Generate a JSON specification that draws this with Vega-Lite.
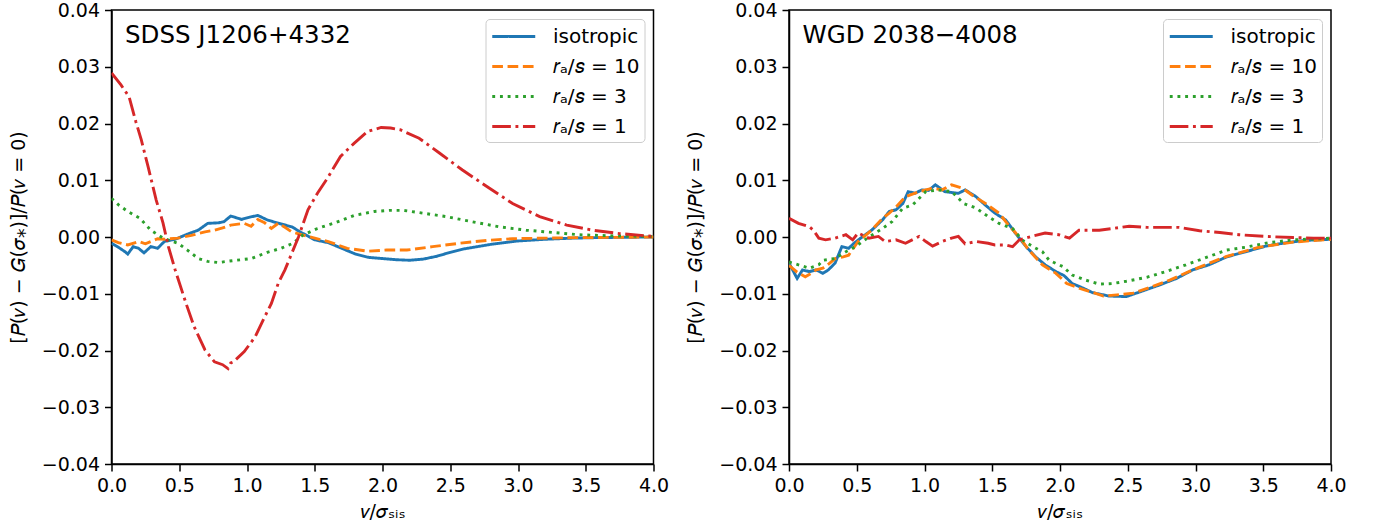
{
"$schema": "https://vega.github.io/schema/vega-lite/v6.json",
"padding": {"left": 8.5, "top": 0, "right": 5, "bottom": 5},
"background": "white",
"spacing": 16.5,
"config": {
  "font": "DejaVu Sans",
  "view": {"stroke": "black", "strokeWidth": 1.5},
  "axis": {"grid": false, "domainColor": "black", "domainWidth": 1.5, "tickColor": "black", "tickWidth": 1.5, "tickSize": 7, "labelPadding": 5, "labelFontSize": 19, "labelColor": "black", "labelFont": "DejaVu Sans", "titleFont": "DejaVu Sans", "titleFontSize": 19, "titleFontWeight": "normal", "titleColor": "black", "labelFlush": false, "labelOverlap": false},
  "legend": {"labelFont": "DejaVu Sans", "title": null, "orient": "top-right", "offset": 9, "symbolType": "M-2,0L2,0", "symbolSize": 462, "symbolOffset": 10.75, "symbolStrokeWidth": 2.9, "labelFontSize": 20, "labelColor": "black", "labelOffset": 26.75, "padding": 5, "rowPadding": 7, "strokeColor": "#cccccc", "cornerRadius": 4, "fillColor": "rgba(255,255,255,0.8)"}
},
"datasets": {
"left": [
{"m":"iso","v":0.0,"d":-0.0011},{"m":"iso","v":0.05,"d":-0.0018},{"m":"iso","v":0.1,"d":-0.0026},{"m":"iso","v":0.12,"d":-0.003},{"m":"iso","v":0.16,"d":-0.0017},{"m":"iso","v":0.2,"d":-0.002},{"m":"iso","v":0.24,"d":-0.0028},{"m":"iso","v":0.29,"d":-0.0017},{"m":"iso","v":0.34,"d":-0.002},{"m":"iso","v":0.39,"d":-0.0008},{"m":"iso","v":0.47,"d":-0.0004},{"m":"iso","v":0.56,"d":0.0005},{"m":"iso","v":0.64,"d":0.0012},{"m":"iso","v":0.71,"d":0.0024},{"m":"iso","v":0.79,"d":0.0025},{"m":"iso","v":0.83,"d":0.0027},{"m":"iso","v":0.88,"d":0.0037},{"m":"iso","v":0.96,"d":0.0031},{"m":"iso","v":1.02,"d":0.0035},{"m":"iso","v":1.08,"d":0.0038},{"m":"iso","v":1.15,"d":0.003},{"m":"iso","v":1.25,"d":0.0023},{"m":"iso","v":1.33,"d":0.0018},{"m":"iso","v":1.4,"d":0.0008},{"m":"iso","v":1.5,"d":-0.0005},{"m":"iso","v":1.6,"d":-0.001},{"m":"iso","v":1.7,"d":-0.002},{"m":"iso","v":1.8,"d":-0.003},{"m":"iso","v":1.9,"d":-0.0036},{"m":"iso","v":2.0,"d":-0.0038},{"m":"iso","v":2.1,"d":-0.004},{"m":"iso","v":2.2,"d":-0.0041},{"m":"iso","v":2.3,"d":-0.0039},{"m":"iso","v":2.4,"d":-0.0034},{"m":"iso","v":2.5,"d":-0.0027},{"m":"iso","v":2.6,"d":-0.0021},{"m":"iso","v":2.8,"d":-0.0013},{"m":"iso","v":3.0,"d":-0.0007},{"m":"iso","v":3.2,"d":-0.0004},{"m":"iso","v":3.4,"d":-0.0002},{"m":"iso","v":3.6,"d":-0.0001},{"m":"iso","v":3.8,"d":-0.00005},{"m":"iso","v":4.0,"d":0},
{"m":"10","v":0.0,"d":-0.0005},{"m":"10","v":0.05,"d":-0.001},{"m":"10","v":0.12,"d":-0.0014},{"m":"10","v":0.2,"d":-0.0008},{"m":"10","v":0.25,"d":-0.0012},{"m":"10","v":0.29,"d":-0.0008},{"m":"10","v":0.34,"d":-0.0003},{"m":"10","v":0.39,"d":-0.0004},{"m":"10","v":0.49,"d":-0.0002},{"m":"10","v":0.59,"d":0.0003},{"m":"10","v":0.69,"d":0.0009},{"m":"10","v":0.76,"d":0.0012},{"m":"10","v":0.82,"d":0.0016},{"m":"10","v":0.88,"d":0.0021},{"m":"10","v":0.98,"d":0.0024},{"m":"10","v":1.03,"d":0.0019},{"m":"10","v":1.08,"d":0.0031},{"m":"10","v":1.13,"d":0.0025},{"m":"10","v":1.18,"d":0.0015},{"m":"10","v":1.23,"d":0.0024},{"m":"10","v":1.28,"d":0.0017},{"m":"10","v":1.33,"d":0.0009},{"m":"10","v":1.42,"d":0.0003},{"m":"10","v":1.5,"d":-0.0002},{"m":"10","v":1.6,"d":-0.0008},{"m":"10","v":1.74,"d":-0.002},{"m":"10","v":1.89,"d":-0.0025},{"m":"10","v":2.03,"d":-0.0023},{"m":"10","v":2.18,"d":-0.0023},{"m":"10","v":2.37,"d":-0.0017},{"m":"10","v":2.57,"d":-0.0011},{"m":"10","v":2.77,"d":-0.0006},{"m":"10","v":2.96,"d":-0.0003},{"m":"10","v":3.2,"d":-0.0002},{"m":"10","v":3.5,"d":-0.0001},{"m":"10","v":4.0,"d":0},
{"m":"3","v":0.0,"d":0.0068},{"m":"3","v":0.05,"d":0.0057},{"m":"3","v":0.12,"d":0.0045},{"m":"3","v":0.21,"d":0.0033},{"m":"3","v":0.29,"d":0.0012},{"m":"3","v":0.38,"d":-0.0002},{"m":"3","v":0.49,"d":-0.0011},{"m":"3","v":0.56,"d":-0.0023},{"m":"3","v":0.64,"d":-0.0038},{"m":"3","v":0.71,"d":-0.0043},{"m":"3","v":0.79,"d":-0.0045},{"m":"3","v":0.85,"d":-0.0043},{"m":"3","v":0.92,"d":-0.0041},{"m":"3","v":1.03,"d":-0.0038},{"m":"3","v":1.15,"d":-0.0027},{"m":"3","v":1.25,"d":-0.002},{"m":"3","v":1.34,"d":-0.0011},{"m":"3","v":1.41,"d":0.0003},{"m":"3","v":1.52,"d":0.0015},{"m":"3","v":1.65,"d":0.0025},{"m":"3","v":1.79,"d":0.0038},{"m":"3","v":1.94,"d":0.0045},{"m":"3","v":2.05,"d":0.0047},{"m":"3","v":2.15,"d":0.0047},{"m":"3","v":2.27,"d":0.0043},{"m":"3","v":2.47,"d":0.0036},{"m":"3","v":2.66,"d":0.0027},{"m":"3","v":2.86,"d":0.0018},{"m":"3","v":3.06,"d":0.0012},{"m":"3","v":3.26,"d":0.0008},{"m":"3","v":3.45,"d":0.0004},{"m":"3","v":3.7,"d":0.0002},{"m":"3","v":4.0,"d":0.0001},
{"m":"1","v":0.0,"d":0.0289},{"m":"1","v":0.07,"d":0.0268},{"m":"1","v":0.13,"d":0.0247},{"m":"1","v":0.18,"d":0.0203},{"m":"1","v":0.22,"d":0.0171},{"m":"1","v":0.27,"d":0.0124},{"m":"1","v":0.33,"d":0.0065},{"m":"1","v":0.38,"d":0.0025},{"m":"1","v":0.42,"d":-0.0017},{"m":"1","v":0.47,"d":-0.0058},{"m":"1","v":0.55,"d":-0.0117},{"m":"1","v":0.61,"d":-0.0158},{"m":"1","v":0.69,"d":-0.0199},{"m":"1","v":0.76,"d":-0.022},{"m":"1","v":0.82,"d":-0.0225},{"m":"1","v":0.86,"d":-0.0232},{"m":"1","v":0.88,"d":-0.0222},{"m":"1","v":0.9,"d":-0.022},{"m":"1","v":0.98,"d":-0.0202},{"m":"1","v":1.06,"d":-0.0176},{"m":"1","v":1.13,"d":-0.0141},{"m":"1","v":1.18,"d":-0.0117},{"m":"1","v":1.23,"d":-0.0082},{"m":"1","v":1.28,"d":-0.0058},{"m":"1","v":1.33,"d":-0.0029},{"m":"1","v":1.38,"d":0.0},{"m":"1","v":1.45,"d":0.0048},{"m":"1","v":1.52,"d":0.0077},{"m":"1","v":1.6,"d":0.0106},{"m":"1","v":1.69,"d":0.0142},{"m":"1","v":1.79,"d":0.0165},{"m":"1","v":1.89,"d":0.0186},{"m":"1","v":1.99,"d":0.0193},{"m":"1","v":2.06,"d":0.0192},{"m":"1","v":2.13,"d":0.0189},{"m":"1","v":2.27,"d":0.0174},{"m":"1","v":2.42,"d":0.0148},{"m":"1","v":2.59,"d":0.0118},{"m":"1","v":2.77,"d":0.0089},{"m":"1","v":2.96,"d":0.0059},{"m":"1","v":3.16,"d":0.0036},{"m":"1","v":3.36,"d":0.0021},{"m":"1","v":3.55,"d":0.0012},{"m":"1","v":3.75,"d":0.0006},{"m":"1","v":4.0,"d":0.0001}
],
"right": [
{"m":"iso","v":0.0,"d":-0.0046},{"m":"iso","v":0.06,"d":-0.0073},{"m":"iso","v":0.1,"d":-0.0058},{"m":"iso","v":0.15,"d":-0.0061},{"m":"iso","v":0.2,"d":-0.0058},{"m":"iso","v":0.25,"d":-0.0064},{"m":"iso","v":0.29,"d":-0.0058},{"m":"iso","v":0.34,"d":-0.0046},{"m":"iso","v":0.39,"d":-0.0017},{"m":"iso","v":0.44,"d":-0.002},{"m":"iso","v":0.48,"d":-0.0011},{"m":"iso","v":0.54,"d":0.0},{"m":"iso","v":0.61,"d":0.0012},{"m":"iso","v":0.69,"d":0.003},{"m":"iso","v":0.74,"d":0.0045},{"m":"iso","v":0.79,"d":0.0048},{"m":"iso","v":0.84,"d":0.0059},{"m":"iso","v":0.88,"d":0.008},{"m":"iso","v":0.93,"d":0.0077},{"m":"iso","v":0.98,"d":0.0083},{"m":"iso","v":1.03,"d":0.0082},{"m":"iso","v":1.08,"d":0.0092},{"m":"iso","v":1.15,"d":0.008},{"m":"iso","v":1.25,"d":0.0077},{"m":"iso","v":1.3,"d":0.0083},{"m":"iso","v":1.38,"d":0.0071},{"m":"iso","v":1.45,"d":0.0056},{"m":"iso","v":1.52,"d":0.0042},{"m":"iso","v":1.6,"d":0.003},{"m":"iso","v":1.67,"d":0.0007},{"m":"iso","v":1.75,"d":-0.0017},{"m":"iso","v":1.82,"d":-0.0035},{"m":"iso","v":1.89,"d":-0.0049},{"m":"iso","v":1.97,"d":-0.0061},{"m":"iso","v":2.03,"d":-0.0068},{"m":"iso","v":2.09,"d":-0.0082},{"m":"iso","v":2.17,"d":-0.009},{"m":"iso","v":2.24,"d":-0.0098},{"m":"iso","v":2.36,"d":-0.0104},{"m":"iso","v":2.49,"d":-0.0105},{"m":"iso","v":2.61,"d":-0.0095},{"m":"iso","v":2.73,"d":-0.0085},{"m":"iso","v":2.86,"d":-0.0073},{"m":"iso","v":2.98,"d":-0.0058},{"m":"iso","v":3.1,"d":-0.0049},{"m":"iso","v":3.23,"d":-0.0035},{"m":"iso","v":3.37,"d":-0.0026},{"m":"iso","v":3.52,"d":-0.0016},{"m":"iso","v":3.67,"d":-0.001},{"m":"iso","v":3.81,"d":-0.0006},{"m":"iso","v":4.0,"d":-0.0004},
{"m":"10","v":0.0,"d":-0.005},{"m":"10","v":0.06,"d":-0.0062},{"m":"10","v":0.12,"d":-0.007},{"m":"10","v":0.17,"d":-0.0063},{"m":"10","v":0.2,"d":-0.0058},{"m":"10","v":0.25,"d":-0.0055},{"m":"10","v":0.29,"d":-0.0048},{"m":"10","v":0.34,"d":-0.0038},{"m":"10","v":0.4,"d":-0.0035},{"m":"10","v":0.44,"d":-0.0032},{"m":"10","v":0.51,"d":-0.0008},{"m":"10","v":0.56,"d":0.0002},{"m":"10","v":0.61,"d":0.0012},{"m":"10","v":0.69,"d":0.0033},{"m":"10","v":0.74,"d":0.0042},{"m":"10","v":0.79,"d":0.0053},{"m":"10","v":0.86,"d":0.0071},{"m":"10","v":0.96,"d":0.008},{"m":"10","v":1.06,"d":0.0086},{"m":"10","v":1.13,"d":0.0083},{"m":"10","v":1.2,"d":0.0092},{"m":"10","v":1.28,"d":0.0086},{"m":"10","v":1.35,"d":0.0074},{"m":"10","v":1.45,"d":0.0059},{"m":"10","v":1.55,"d":0.0042},{"m":"10","v":1.62,"d":0.0021},{"m":"10","v":1.7,"d":0.0},{"m":"10","v":1.77,"d":-0.0023},{"m":"10","v":1.87,"d":-0.0049},{"m":"10","v":1.97,"d":-0.0064},{"m":"10","v":2.05,"d":-0.0082},{"m":"10","v":2.14,"d":-0.009},{"m":"10","v":2.22,"d":-0.0096},{"m":"10","v":2.32,"d":-0.0104},{"m":"10","v":2.42,"d":-0.0102},{"m":"10","v":2.54,"d":-0.0099},{"m":"10","v":2.66,"d":-0.0089},{"m":"10","v":2.81,"d":-0.0076},{"m":"10","v":2.98,"d":-0.0058},{"m":"10","v":3.23,"d":-0.0034},{"m":"10","v":3.47,"d":-0.0018},{"m":"10","v":3.72,"d":-0.0009},{"m":"10","v":4.0,"d":-0.0004},
{"m":"3","v":0.0,"d":-0.0044},{"m":"3","v":0.07,"d":-0.0049},{"m":"3","v":0.15,"d":-0.0055},{"m":"3","v":0.22,"d":-0.0049},{"m":"3","v":0.25,"d":-0.0041},{"m":"3","v":0.34,"d":-0.0038},{"m":"3","v":0.42,"d":-0.0026},{"m":"3","v":0.49,"d":-0.0017},{"m":"3","v":0.59,"d":0.0},{"m":"3","v":0.69,"d":0.0015},{"m":"3","v":0.76,"d":0.0027},{"m":"3","v":0.84,"d":0.0051},{"m":"3","v":0.91,"d":0.0056},{"m":"3","v":1.01,"d":0.008},{"m":"3","v":1.1,"d":0.0083},{"m":"3","v":1.2,"d":0.008},{"m":"3","v":1.29,"d":0.0059},{"m":"3","v":1.38,"d":0.0051},{"m":"3","v":1.47,"d":0.0036},{"m":"3","v":1.55,"d":0.0024},{"m":"3","v":1.65,"d":0.0015},{"m":"3","v":1.72,"d":-0.0005},{"m":"3","v":1.8,"d":-0.0017},{"m":"3","v":1.87,"d":-0.0026},{"m":"3","v":1.92,"d":-0.0041},{"m":"3","v":2.02,"d":-0.0052},{"m":"3","v":2.09,"d":-0.0067},{"m":"3","v":2.19,"d":-0.0076},{"m":"3","v":2.29,"d":-0.0083},{"m":"3","v":2.39,"d":-0.0082},{"m":"3","v":2.49,"d":-0.0078},{"m":"3","v":2.64,"d":-0.0071},{"m":"3","v":2.78,"d":-0.0061},{"m":"3","v":2.93,"d":-0.0049},{"m":"3","v":3.08,"d":-0.0036},{"m":"3","v":3.23,"d":-0.0023},{"m":"3","v":3.37,"d":-0.0018},{"m":"3","v":3.54,"d":-0.001},{"m":"3","v":3.72,"d":-0.0005},{"m":"3","v":3.91,"d":-0.0003},{"m":"3","v":4.0,"d":-0.0002},
{"m":"1","v":0.0,"d":0.0033},{"m":"1","v":0.07,"d":0.0024},{"m":"1","v":0.15,"d":0.0018},{"m":"1","v":0.18,"d":0.0012},{"m":"1","v":0.22,"d":-0.0002},{"m":"1","v":0.27,"d":-0.0005},{"m":"1","v":0.34,"d":-0.0002},{"m":"1","v":0.42,"d":0.0004},{"m":"1","v":0.47,"d":-0.0005},{"m":"1","v":0.51,"d":0.0007},{"m":"1","v":0.59,"d":-0.0002},{"m":"1","v":0.66,"d":0.0001},{"m":"1","v":0.71,"d":-0.0008},{"m":"1","v":0.79,"d":-0.0005},{"m":"1","v":0.86,"d":-0.0011},{"m":"1","v":0.96,"d":0.0001},{"m":"1","v":1.01,"d":-0.0008},{"m":"1","v":1.06,"d":-0.0016},{"m":"1","v":1.13,"d":-0.0008},{"m":"1","v":1.2,"d":-0.0002},{"m":"1","v":1.25,"d":0.0001},{"m":"1","v":1.3,"d":-0.0012},{"m":"1","v":1.38,"d":-0.0008},{"m":"1","v":1.47,"d":-0.0011},{"m":"1","v":1.52,"d":-0.0014},{"m":"1","v":1.6,"d":-0.0014},{"m":"1","v":1.65,"d":-0.0017},{"m":"1","v":1.7,"d":-0.0005},{"m":"1","v":1.79,"d":0.0001},{"m":"1","v":1.89,"d":0.0007},{"m":"1","v":1.99,"d":0.0004},{"m":"1","v":2.07,"d":-0.0002},{"m":"1","v":2.14,"d":0.0012},{"m":"1","v":2.29,"d":0.0012},{"m":"1","v":2.39,"d":0.0015},{"m":"1","v":2.51,"d":0.0019},{"m":"1","v":2.64,"d":0.0017},{"m":"1","v":2.76,"d":0.0017},{"m":"1","v":2.88,"d":0.0017},{"m":"1","v":3.03,"d":0.0011},{"m":"1","v":3.18,"d":0.0008},{"m":"1","v":3.32,"d":0.0004},{"m":"1","v":3.52,"d":0.0001},{"m":"1","v":3.72,"d":-0.0001},{"m":"1","v":3.87,"d":-0.0002},{"m":"1","v":4.0,"d":-0.0002}
]
},
"hconcat": [
{
"width": 542, "height": 454,
"layer": [
{
"data": {"name": "left"},
"mark": {"type": "line", "strokeWidth": 2.9, "clip": true},
"encoding": {
"x": {"field": "v", "type": "quantitative", "scale": {"domain": [0, 4], "nice": false, "zero": false}, "axis": {"values": [0,0.5,1,1.5,2,2.5,3,3.5,4], "format": ".1f", "titlePadding": 7}, "title": "𝑣/𝜎ₛᵢₛ"},
"y": {"field": "d", "type": "quantitative", "scale": {"domain": [-0.04, 0.04], "nice": false}, "axis": {"values": [-0.04,-0.03,-0.02,-0.01,0,0.01,0.02,0.03,0.04], "labelExpr": "replace(format(datum.value, '.2f'), '-', '−')", "titlePadding": 13}, "title": "[𝑃(𝑣) − 𝐺(𝜎⁎)]/𝑃(𝑣 = 0)"},
"color": {"field": "m", "type": "nominal", "scale": {"domain": ["iso","10","3","1"], "range": ["#1f77b4","#ff7f0e","#2ca02c","#d62728"]}, "legend": {"labelExpr": "datum.label == 'iso' ? 'isotropic' : '𝑟ₐ/𝑠 = ' + datum.label"}},
"strokeDash": {"field": "m", "type": "nominal", "scale": {"domain": ["iso","10","3","1"], "range": [[1,0],[10.7,4.6],[2.9,4.8],[18.6,4.6,2.9,4.6]]}, "legend": {"labelExpr": "datum.label == 'iso' ? 'isotropic' : '𝑟ₐ/𝑠 = ' + datum.label"}}
}
},
{
"data": {"values": [{"name": "SDSS J1206+4332"}]},
"mark": {"type": "text", "align": "left", "baseline": "middle", "fontSize": 24.5, "font": "DejaVu Sans", "color": "black"},
"encoding": {"x": {"datum": 0.1}, "y": {"datum": 0.0355}, "text": {"field": "name"}}
}
]
},
{
"width": 542, "height": 454,
"layer": [
{
"data": {"name": "right"},
"mark": {"type": "line", "strokeWidth": 2.9, "clip": true},
"encoding": {
"x": {"field": "v", "type": "quantitative", "scale": {"domain": [0, 4], "nice": false, "zero": false}, "axis": {"values": [0,0.5,1,1.5,2,2.5,3,3.5,4], "format": ".1f", "titlePadding": 7}, "title": "𝑣/𝜎ₛᵢₛ"},
"y": {"field": "d", "type": "quantitative", "scale": {"domain": [-0.04, 0.04], "nice": false}, "axis": {"values": [-0.04,-0.03,-0.02,-0.01,0,0.01,0.02,0.03,0.04], "labelExpr": "replace(format(datum.value, '.2f'), '-', '−')", "titlePadding": 13}, "title": "[𝑃(𝑣) − 𝐺(𝜎⁎)]/𝑃(𝑣 = 0)"},
"color": {"field": "m", "type": "nominal", "scale": {"domain": ["iso","10","3","1"], "range": ["#1f77b4","#ff7f0e","#2ca02c","#d62728"]}, "legend": {"labelExpr": "datum.label == 'iso' ? 'isotropic' : '𝑟ₐ/𝑠 = ' + datum.label"}},
"strokeDash": {"field": "m", "type": "nominal", "scale": {"domain": ["iso","10","3","1"], "range": [[1,0],[10.7,4.6],[2.9,4.8],[18.6,4.6,2.9,4.6]]}, "legend": {"labelExpr": "datum.label == 'iso' ? 'isotropic' : '𝑟ₐ/𝑠 = ' + datum.label"}}
}
},
{
"data": {"values": [{"name": "WGD 2038−4008"}]},
"mark": {"type": "text", "align": "left", "baseline": "middle", "fontSize": 24.5, "font": "DejaVu Sans", "color": "black"},
"encoding": {"x": {"datum": 0.1}, "y": {"datum": 0.0355}, "text": {"field": "name"}}
}
]
}
],
"resolve": {"scale": {"color": "independent", "strokeDash": "independent"}, "legend": {"color": "independent", "strokeDash": "independent"}}
}
